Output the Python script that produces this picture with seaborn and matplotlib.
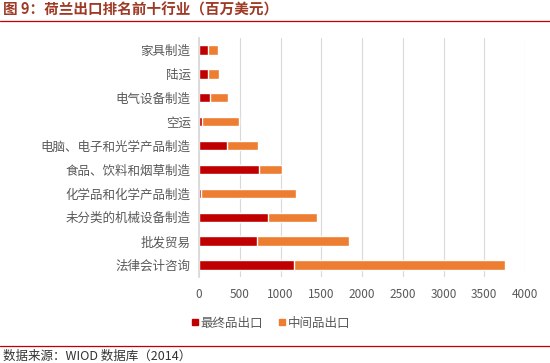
import matplotlib
matplotlib.use('Agg')
import matplotlib.pyplot as plt
import seaborn as sns
import pandas as pd
from matplotlib.lines import Line2D

# industries, top to bottom as drawn
industries = ['家具制造', '陆运', '电气设备制造', '空运', '电脑、电子和光学产品制造',
              '食品、饮料和烟草制造', '化学品和化学产品制造', '未分类的机械设备制造',
              '批发贸易', '法律会计咨询']
final_goods = [106, 106, 135, 37, 348, 736, 29, 843, 708, 1170]
intermediate = [123, 144, 217, 450, 376, 278, 1161, 601, 1133, 2581]

df = pd.DataFrame({'industry': industries, 'final': final_goods, 'inter': intermediate})
df['total'] = df['final'] + df['inter']

RED = '#C00000'
ORANGE = '#ED7D31'
GRAY = '#595959'

sns.set_theme(style='white')
plt.rcParams['font.family'] = ['Noto Sans CJK SC', 'DejaVu Sans']

fig = plt.figure(figsize=(5.5, 3.63), dpi=100)
ax = fig.add_axes([199 / 550, 1 - 277 / 363, 326 / 550, 239 / 363])

sns.barplot(data=df, x='total', y='industry', color=ORANGE, width=0.39,
            saturation=1, ax=ax, label='中间品出口')
sns.barplot(data=df, x='final', y='industry', color=RED, width=0.39,
            saturation=1, ax=ax, label='最终品出口')

ax.set_xlim(0, 4000)
ax.set_xticks(range(0, 4001, 500))
ax.xaxis.grid(True, color='#D9D9D9', linewidth=0.8)
ax.set_axisbelow(True)
for s in ['top', 'right', 'bottom']:
    ax.spines[s].set_visible(False)
ax.spines['left'].set_color('#D9D9D9')
ax.set_xlabel('')
ax.set_ylabel('')
ax.tick_params(axis='x', colors=GRAY, labelsize=8.5, length=0, pad=8)
ax.tick_params(axis='y', colors=GRAY, labelsize=9, length=0, pad=6)
if ax.get_legend() is not None:
    ax.get_legend().remove()

handles = [Line2D([], [], marker='s', linestyle='', color=RED, markersize=5),
           Line2D([], [], marker='s', linestyle='', color=ORANGE, markersize=5)]
fig.legend(handles, ['最终品出口', '中间品出口'], loc='center', ncol=2,
           bbox_to_anchor=(0.49, 1 - 323 / 363), frameon=False, fontsize=9,
           labelcolor=GRAY, handletextpad=0.0, columnspacing=1.0, handlelength=1.0)

fig.text(0.005, 1 - 10 / 363, '图 9：荷兰出口排名前十行业（百万美元）', fontsize=10.5,
         fontweight='bold', color='#9E3A26', va='center', ha='left')
fig.add_artist(Line2D([0, 1], [1 - 21 / 363, 1 - 21 / 363], color='#C00000', linewidth=0.9))
fig.add_artist(Line2D([0, 1], [1 - 346 / 363, 1 - 346 / 363], color='#C00000', linewidth=0.9))
fig.text(0.005, 1 - 356 / 363, '数据来源：WIOD 数据库（2014）', fontsize=9,
         color='#333333', va='center', ha='left')

fig.savefig('out.png', dpi=100)
